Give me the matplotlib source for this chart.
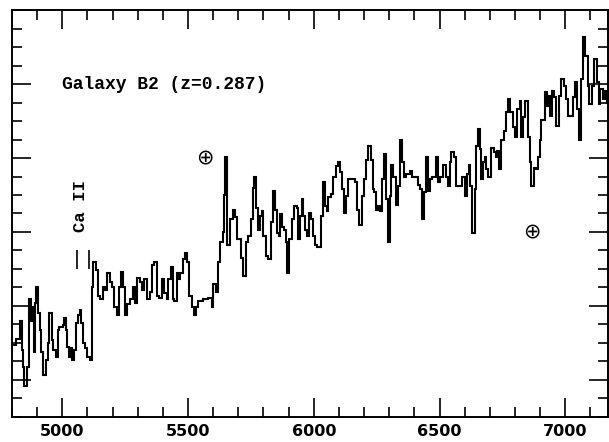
import matplotlib
matplotlib.use('Agg')
import matplotlib.pyplot as plt
from matplotlib.ticker import MultipleLocator

# spectrum of galaxy B2 (wavelength in A, flux arbitrary)
wave = [4801, 4815, 4830, 4840, 4844, 4849, 4860, 4866, 4876, 4882,
        4886, 4890, 4897, 4904, 4910, 4915, 4923, 4934, 4942, 4947,
        4960, 4965, 4973, 4981, 4987, 5001, 5005, 5013, 5019, 5028,
        5035, 5040, 5048, 5053, 5061, 5069, 5075, 5082, 5091, 5100,
        5111, 5118, 5124, 5134, 5142, 5151, 5162, 5171, 5177, 5188,
        5197, 5206, 5217, 5225, 5233, 5241, 5250, 5257, 5270, 5281,
        5290, 5297, 5307, 5316, 5326, 5336, 5347, 5356, 5365, 5376,
        5386, 5396, 5405, 5416, 5422, 5432, 5439, 5445, 5455, 5462,
        5468, 5479, 5488, 5497, 5505, 5515, 5524, 5532, 5541, 5561,
        5581, 5594, 5601, 5611, 5621, 5627, 5638, 5643, 5648, 5656,
        5667, 5678, 5687, 5696, 5709, 5717, 5730, 5740, 5749, 5757,
        5762, 5770, 5779, 5786, 5793, 5799, 5810, 5819, 5829, 5836,
        5844, 5852, 5860, 5865, 5873, 5881, 5889, 5894, 5902, 5912,
        5921, 5932, 5938, 5945, 5952, 5958, 5965, 5974, 5982, 5989,
        5998, 6004, 6014, 6027, 6035, 6044, 6051, 6057, 6067, 6077,
        6088, 6097, 6104, 6114, 6120, 6127, 6135, 6163, 6172, 6180,
        6190, 6199, 6207, 6216, 6226, 6234, 6241, 6249, 6257, 6265,
        6273, 6281, 6289, 6295, 6302, 6309, 6315, 6326, 6335, 6342,
        6350, 6358, 6368, 6382, 6392, 6405, 6415, 6424, 6432, 6440,
        6448, 6454, 6464, 6472, 6485, 6494, 6501, 6514, 6524, 6534,
        6540, 6547, 6556, 6564, 6591, 6600, 6609, 6617, 6623, 6631,
        6640, 6646, 6653, 6659, 6666, 6673, 6679, 6686, 6692, 6706,
        6715, 6723, 6728, 6736, 6746, 6755, 6765, 6772, 6781, 6792,
        6801, 6809, 6818, 6825, 6831, 6838, 6851, 6858, 6865, 6874,
        6882, 6891, 6900, 6904, 6921, 6927, 6935, 6940, 6948, 6957,
        6964, 6974, 6984, 6993, 7001, 7010, 7030, 7037, 7046, 7054,
        7063, 7070, 7080, 7090, 7096, 7107, 7116, 7125, 7133, 7140,
        7149, 7156, 7165]
flux = [0.97, 1.05, 1.29, 0.91, 0.68, 0.41, 0.68, 1.59, 1.29, 1.49,
        0.88, 1.54, 1.76, 1.41, 1.18, 0.87, 0.57, 0.77, 1.00, 1.41,
        1.04, 0.91, 0.81, 1.18, 1.21, 1.24, 1.34, 1.18, 0.95, 0.81,
        0.93, 0.77, 0.91, 1.27, 1.38, 1.45, 1.27, 1.00, 0.93, 0.81,
        0.77, 1.76, 2.10, 1.99, 1.63, 1.59, 1.76, 1.72, 1.95, 1.82,
        1.76, 1.49, 1.38, 1.76, 1.96, 1.76, 1.38, 1.52, 1.59, 1.75,
        1.54, 1.88, 1.83, 1.72, 1.86, 1.59, 1.69, 2.06, 2.09, 1.63,
        1.61, 1.86, 1.68, 1.59, 1.86, 2.03, 1.59, 1.56, 1.95, 1.86,
        1.95, 2.13, 2.22, 2.09, 1.63, 1.48, 1.38, 1.49, 1.56, 1.59,
        1.61, 1.49, 1.79, 1.69, 2.09, 2.37, 2.50, 3.00, 3.51, 2.33,
        2.67, 2.80, 2.70, 2.40, 2.15, 1.90, 2.36, 2.44, 2.67, 3.10,
        3.24, 2.83, 2.53, 2.71, 2.78, 2.44, 2.17, 2.13, 2.63, 3.05,
        2.80, 2.49, 2.44, 2.74, 2.57, 2.53, 2.36, 1.95, 2.40, 2.67,
        2.85, 2.83, 2.40, 2.71, 2.94, 2.71, 2.53, 2.44, 2.76, 2.67,
        2.44, 2.33, 2.29, 2.71, 3.18, 2.85, 2.78, 2.97, 3.01, 3.25,
        3.39, 3.44, 3.31, 3.08, 2.76, 2.98, 3.22, 3.18, 2.80, 2.60,
        2.98, 3.21, 3.48, 3.66, 3.48, 3.08, 3.04, 2.80, 2.85, 2.78,
        3.21, 3.55, 2.94, 2.37, 2.98, 3.41, 3.25, 2.87, 3.12, 3.75,
        3.44, 3.24, 3.28, 3.32, 3.25, 3.24, 3.14, 3.08, 2.67, 3.04,
        3.52, 3.05, 3.21, 3.25, 3.52, 3.18, 3.24, 3.41, 3.25, 3.12,
        3.44, 3.58, 3.52, 3.12, 3.25, 2.98, 3.28, 3.41, 3.12, 2.49,
        3.08, 3.66, 3.89, 3.62, 3.21, 3.44, 3.52, 3.35, 3.24, 3.64,
        3.58, 3.51, 3.59, 3.35, 3.75, 3.86, 4.12, 4.30, 4.12, 3.92,
        3.78, 4.16, 4.27, 3.79, 4.05, 4.27, 3.79, 3.44, 3.12, 3.37,
        3.35, 3.52, 3.75, 4.02, 4.39, 4.20, 4.34, 4.07, 4.40, 4.32,
        3.93, 4.34, 4.57, 4.47, 4.30, 4.07, 4.32, 4.53, 4.16, 3.75,
        4.57, 5.14, 4.88, 4.47, 4.23, 4.47, 4.84, 4.53, 4.23, 4.43,
        4.30, 4.40, 4.25]
wave_end = 7170

# Ca II H & K at z=0.287, and telluric features
cak_wave = [5059, 5106]
cak_low, cak_high = 2.00, 2.26
earth_wave = [5568, 6866]
earth_flux = [3.51, 2.51]

fig = plt.figure(figsize=(6.09, 4.42), dpi=100)
ax = fig.add_axes([0.0197, 0.057, 0.9787, 0.920])

ax.stairs(flux, wave + [wave_end], baseline=None, color='black', linewidth=1.5)

ax.vlines(cak_wave, cak_low, cak_high, color='black', linewidth=1.2)
ax.text(5071, 2.85, 'Ca II', rotation=90, ha='center', va='center',
        family='Liberation Mono', fontsize=12.5, fontweight='bold')
for w, f in zip(earth_wave, earth_flux):
    ax.text(w, f, '\u2295', ha='center', va='center', fontsize=15,
            family='DejaVu Sans')
ax.text(5000, 4.50, 'Galaxy B2 (z=0.287)', ha='left', va='center',
        family='Liberation Mono', fontsize=13, fontweight='bold')

ax.set_xlim(4800, wave_end)
ax.set_ylim(0, 5.5)
ax.xaxis.set_major_locator(MultipleLocator(500))
ax.xaxis.set_minor_locator(MultipleLocator(100))
ax.yaxis.set_major_locator(MultipleLocator(1.0, offset=0.5))
ax.yaxis.set_minor_locator(MultipleLocator(0.25))
ax.tick_params(which='both', direction='in', top=True, right=True,
               width=1.2, colors='black')
ax.tick_params(which='major', length=13.5, pad=5)
ax.tick_params(which='minor', length=7)
ax.tick_params(axis='y', labelleft=False)
for lab in ax.get_xticklabels():
    lab.set_fontweight('bold')
    lab.set_fontsize(11.5)
for s in ax.spines.values():
    s.set_linewidth(1.4)

plt.savefig('out.png', dpi=100)
